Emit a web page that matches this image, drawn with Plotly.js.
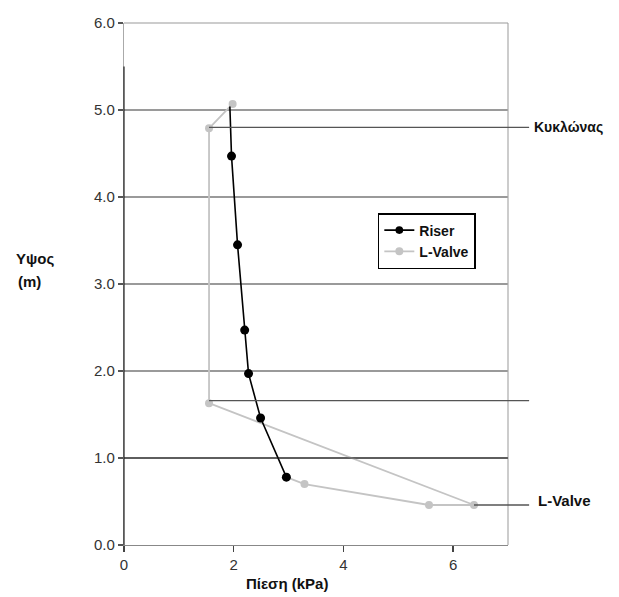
<!DOCTYPE html>
<html>
<head>
<meta charset="utf-8">
<script src="https://cdn.plot.ly/plotly-3.0.1.min.js"></script>
<style>html,body{margin:0;padding:0;background:#fff;}#chart{width:619px;height:597px;}</style>
</head>
<body>
<div id="chart"></div>
<script>
// Data
const riserPressure = [1.93, 1.96, 2.07, 2.20, 2.27, 2.49, 2.96];
const riserHeight   = [5.04, 4.47, 3.45, 2.47, 1.97, 1.46, 0.78];
const riserMarkerShown = [0, 1, 1, 1, 1, 1, 1];

const lvalvePressure = [1.98, 1.55, 1.55, 6.38, 5.56, 3.29, 2.96];
const lvalveHeight   = [5.07, 4.79, 1.63, 0.46, 0.46, 0.70, 0.78];

const xTickVals = [0, 2, 4, 6];
const yTickVals = [0, 1, 2, 3, 4, 5, 6];

// Reference levels for the side labels
const cycloneLevel = 4.8;
const cycloneStart = 1.55;
const midLevel = 1.66;
const midStart = 1.55;
const valveLevel = 0.46;
const valveStart = 6.38;

const xMax = 7;
const font = "'Liberation Sans', Arial, sans-serif";

const traces = [
  {
    name: 'L-Valve',
    x: lvalvePressure, y: lvalveHeight,
    mode: 'lines+markers',
    line: {color: '#c4c4c4', width: 1.8},
    marker: {color: '#c4c4c4', size: 8, opacity: 1, line: {width: 0}},
    type: 'scatter'
  },
  {
    name: 'Riser',
    x: riserPressure, y: riserHeight,
    mode: 'lines+markers',
    line: {color: '#000000', width: 1.6},
    marker: {color: '#000000', size: riserMarkerShown.map(v => v ? 9 : 0), opacity: 1, line: {width: 0}},
    type: 'scatter'
  }
];

const lineEnd = 1.055;
const shapes = [
  {type: 'line', xref: 'paper', yref: 'paper', x0: 1, x1: 1, y0: 0, y1: 1, line: {color: '#aaaaaa', width: 1.2}},
  {type: 'line', xref: 'paper', yref: 'paper', x0: 0, x1: 1, y0: 1, y1: 1, line: {color: '#9a9a9a', width: 1.2}},
  {type: 'line', xref: 'paper', yref: 'y', x0: 0, x1: 1, y0: 1, y1: 1, line: {color: '#222222', width: 1}},
  {type: 'line', xref: 'paper', yref: 'y', x0: 0, x1: 0, y0: 0, y1: 5.5, line: {color: '#222222', width: 1.2}},
  {type: 'line', xref: 'paper', yref: 'y', x0: cycloneStart / xMax, x1: lineEnd, y0: cycloneLevel, y1: cycloneLevel, line: {color: '#555555', width: 1.4}},
  {type: 'line', xref: 'paper', yref: 'y', x0: midStart / xMax, x1: lineEnd, y0: midLevel, y1: midLevel, line: {color: '#555555', width: 1.4}},
  {type: 'line', xref: 'paper', yref: 'y', x0: valveStart / xMax, x1: lineEnd, y0: valveLevel, y1: valveLevel, line: {color: '#555555', width: 1.4}}
];

const boldFont = {family: font, size: 15, color: '#111', weight: 'bold'};
const annotations = [
  {text: 'Κυκλώνας', xref: 'paper', yref: 'y', x: 1.063, y: cycloneLevel, xanchor: 'left', yanchor: 'middle', showarrow: false, font: {family: font, size: 14, color: '#111', weight: 'bold'}},
  {text: 'L-Valve', xref: 'paper', yref: 'y', x: 1.073, y: valveLevel + 0.05, xanchor: 'left', yanchor: 'middle', showarrow: false, font: boldFont},
  {text: 'Πίεση (kPa)', xref: 'paper', yref: 'paper', x: 0.424, y: -0.073, xanchor: 'center', yanchor: 'middle', showarrow: false, font: boldFont},
  {text: 'Υψος', xref: 'paper', yref: 'paper', x: -0.232, y: 0.549, xanchor: 'center', yanchor: 'middle', showarrow: false, font: boldFont},
  {text: '(m)', xref: 'paper', yref: 'paper', x: -0.245, y: 0.504, xanchor: 'center', yanchor: 'middle', showarrow: false, font: boldFont}
];

const layout = {
  width: 619, height: 597,
  margin: {l: 124, r: 111, t: 23, b: 52},
  paper_bgcolor: '#ffffff', plot_bgcolor: '#ffffff',
  showlegend: true,
  legend: {
    x: 0.661, y: 0.636, xanchor: 'left', yanchor: 'top',
    bordercolor: '#000', borderwidth: 1.5, bgcolor: '#fff',
    traceorder: 'reversed',
    font: {family: font, size: 14, color: '#111', weight: 'bold'},
    tracegroupgap: 0
  },
  xaxis: {
    range: [0, xMax], tickvals: xTickVals, ticktext: xTickVals.map(String),
    showgrid: false, zeroline: false,
    showline: true, linecolor: '#888888', linewidth: 1.2,
    ticks: 'outside', ticklen: 6, tickcolor: '#444', tickwidth: 1.5,
    tickfont: {family: font, size: 15, color: '#333'}
  },
  yaxis: {
    range: [0, 6], tickvals: yTickVals, ticktext: yTickVals.map(v => v.toFixed(1)),
    showgrid: true, gridcolor: '#9a9a9a', gridwidth: 1.2, zeroline: false,
    showline: true, linecolor: '#aaaaaa', linewidth: 1.2,
    ticks: 'outside', ticklen: 5, tickcolor: '#555', tickwidth: 1.2,
    tickfont: {family: font, size: 15, color: '#333'}
  },
  shapes: shapes,
  annotations: annotations
};

Plotly.newPlot('chart', traces, layout, {displayModeBar: false, staticPlot: true});
</script>
</body>
</html>
